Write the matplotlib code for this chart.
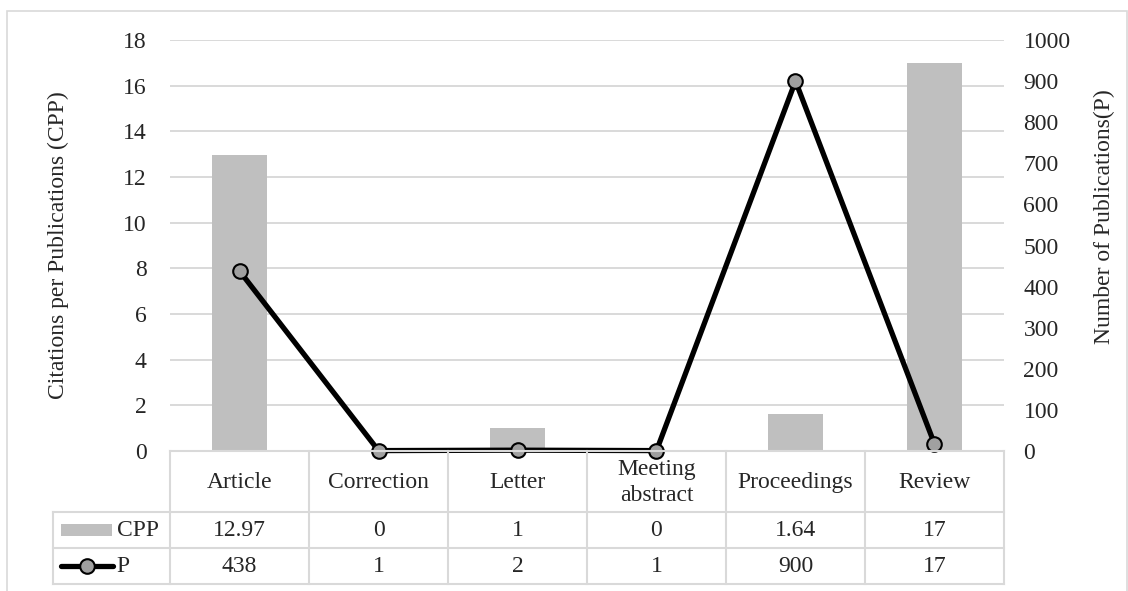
import matplotlib
matplotlib.use("Agg")
import matplotlib.pyplot as plt
from matplotlib.patches import Rectangle
from matplotlib.lines import Line2D

categories = ["Article", "Correction", "Letter", "Meeting\nabstract", "Proceedings", "Review"]
cpp = [12.97, 0, 1, 0, 1.64, 17]
pubs = [438, 1, 2, 1, 900, 17]
cpp_labels = ["12.97", "0", "1", "0", "1.64", "17"]
pubs_labels = ["438", "1", "2", "1", "900", "17"]
left_ticks = [0, 2, 4, 6, 8, 10, 12, 14, 16, 18]
right_ticks = [0, 100, 200, 300, 400, 500, 600, 700, 800, 900, 1000]

plt.rcParams['font.family'] = ['Liberation Serif', 'DejaVu Serif']
FS = 17
W, H = 1128, 591
fig = plt.figure(figsize=(W / 100, H / 100), dpi=100)

def fx(px):
    return px / W

def fy(py):
    return 1 - py / H

BAR = '#BFBFBF'
GRID = '#D9D9D9'
TXT = '#262626'
MFC = '#A0A0A0'

# outer border
fig.add_artist(Rectangle((fx(7), fy(600)), fx(1127) - fx(7), fy(11) - fy(600),
                         transform=fig.transFigure, fill=False, ec=GRID, lw=1.2))

x0, x1 = 170, 1004
y_top, y_bot = 40, 451
ax = fig.add_axes([fx(x0), fy(y_bot), fx(x1) - fx(x0), fy(y_top) - fy(y_bot)])
xs = list(range(len(categories)))
ax.bar(xs, cpp, width=0.4, color=BAR, zorder=2)
ax.set_xlim(-0.5, len(categories) - 0.5)
ax.set_ylim(0, 18)
ax.set_yticks(left_ticks)
ax.tick_params(axis='y', length=0, pad=17, labelsize=FS, labelcolor=TXT)
ax.set_xticks([])
ax.grid(axis='y', color=GRID, lw=1.4, zorder=0)
ax.set_axisbelow(True)
for s in ax.spines.values():
    s.set_visible(False)

ax2 = ax.twinx()
ax2.plot(xs, pubs, color='black', lw=3.8, marker='o', markersize=10.5,
         markerfacecolor=MFC, markeredgecolor='black', markeredgewidth=1.5,
         zorder=5, clip_on=False)
ax2.set_ylim(0, 1000)
ax2.set_yticks(right_ticks)
ax2.tick_params(axis='y', length=0, pad=14, labelsize=FS, labelcolor=TXT)
for s in ax2.spines.values():
    s.set_visible(False)

fig.text(fx(58), fy(245), "Citations per Publications (CPP)", rotation=90,
         ha='center', va='center', fontsize=FS, color=TXT)
fig.text(fx(1104), fy(217), "Number of Publications(P)", rotation=90,
         ha='center', va='center', fontsize=FS, color=TXT)

# data table
rows_y = [451, 512, 548, 584]
leg_x = 53
col_w = (x1 - x0) / len(categories)
tl = dict(transform=fig.transFigure, color=GRID, lw=1.5)
fig.add_artist(Line2D([fx(x0), fx(x1)], [fy(rows_y[0])] * 2, **tl))
for ry in rows_y[1:]:
    fig.add_artist(Line2D([fx(leg_x), fx(x1)], [fy(ry)] * 2, **tl))
for i in range(len(categories) + 1):
    xx = x0 + i * col_w
    fig.add_artist(Line2D([fx(xx)] * 2, [fy(rows_y[0]), fy(rows_y[3])], **tl))
fig.add_artist(Line2D([fx(leg_x)] * 2, [fy(rows_y[1]), fy(rows_y[3])], **tl))

for i, cat in enumerate(categories):
    cx = x0 + (i + 0.5) * col_w
    fig.text(fx(cx), fy((rows_y[0] + rows_y[1]) / 2 + 1), cat, ha='center', va='center',
             fontsize=FS, color=TXT, linespacing=1.35)
    fig.text(fx(cx), fy((rows_y[1] + rows_y[2]) / 2 + 1), cpp_labels[i], ha='center',
             va='center', fontsize=FS, color=TXT)
    fig.text(fx(cx), fy((rows_y[2] + rows_y[3]) / 2 + 1), pubs_labels[i], ha='center',
             va='center', fontsize=FS, color=TXT)

# legend keys
cy1 = (rows_y[1] + rows_y[2]) / 2
fig.add_artist(Rectangle((fx(61), fy(cy1 + 6)), fx(112) - fx(61), fy(cy1 - 6) - fy(cy1 + 6),
                         transform=fig.transFigure, color=BAR, lw=0))
fig.text(fx(117), fy(cy1 + 1), "CPP", ha='left', va='center', fontsize=FS, color=TXT)
cy2 = (rows_y[2] + rows_y[3]) / 2
fig.add_artist(Line2D([fx(61), fx(113)], [fy(cy2)] * 2, transform=fig.transFigure,
                      color='black', lw=3.8, solid_capstyle='round'))
fig.add_artist(Line2D([fx(87)], [fy(cy2)], transform=fig.transFigure, marker='o',
                      markersize=10.5, markerfacecolor=MFC, markeredgecolor='black',
                      markeredgewidth=1.5, lw=0))
fig.text(fx(116), fy(cy2 + 1), "P", ha='left', va='center', fontsize=FS, color=TXT)

fig.savefig("out.png", dpi=100)
